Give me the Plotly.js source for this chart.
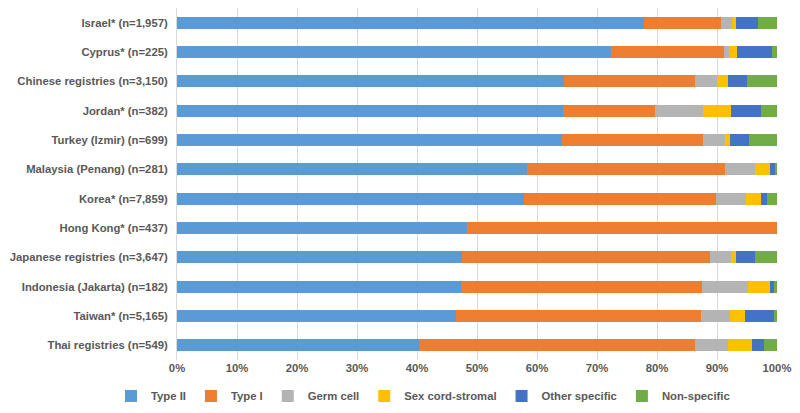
<!DOCTYPE html>
<html>
<head>
<meta charset="utf-8">
<script src="https://cdn.plot.ly/plotly-3.0.1.min.js"></script>
<style>
  html, body { margin: 0; padding: 0; background: #fff; }
  #chart { width: 800px; height: 413px; }
</style>
</head>
<body>
<div id="chart"></div>
<script>
// registries, top to bottom as drawn
const registries = [
  'Israel* (n=1,957)',
  'Cyprus* (n=225)',
  'Chinese registries (n=3,150)',
  'Jordan* (n=382)',
  'Turkey (Izmir) (n=699)',
  'Malaysia (Penang) (n=281)',
  'Korea* (n=7,859)',
  'Hong Kong* (n=437)',
  'Japanese registries (n=3,647)',
  'Indonesia (Jakarta) (n=182)',
  'Taiwan* (n=5,165)',
  'Thai registries (n=549)'
];

// percentages, same order as registries
const typeII       = [77.8, 72.4, 64.5, 64.4, 64.1, 58.4, 57.9, 48.3, 47.5, 47.4, 46.5, 40.4];
const typeI        = [12.8, 18.7, 21.8, 15.2, 23.6, 33.0, 32.0, 51.7, 41.3, 40.1, 40.9, 45.9];
const germCell     = [1.9, 0.9, 3.7, 8.1, 3.7, 5.0, 5.0, 0, 3.6, 7.7, 4.8, 5.5];
const sexCord      = [0.7, 1.3, 1.9, 4.7, 0.7, 2.5, 2.5, 0, 0.7, 3.7, 2.4, 4.1];
const otherSpec    = [3.6, 5.8, 3.1, 5.0, 3.3, 0.7, 0.9, 0, 3.3, 0.6, 4.9, 1.9];
const nonSpec      = [3.2, 0.9, 5.0, 2.6, 4.6, 0.4, 1.7, 0, 3.6, 0.5, 0.5, 2.2];

const seriesNames = ['Type II', 'Type I', 'Germ cell', 'Sex cord-stromal', 'Other specific', 'Non-specific'];
const seriesVals = [typeII, typeI, germCell, sexCord, otherSpec, nonSpec];
const colors = ['#5B9BD5', '#ED7D31', '#B4B4B4', '#FFC000', '#4472C4', '#70AD47'];

const traces = seriesNames.map((name, i) => ({
  type: 'bar',
  orientation: 'h',
  name: name,
  y: registries,
  x: seriesVals[i].map(v => v / 100),
  marker: { color: colors[i], line: { width: 0 } },
  hoverinfo: 'name+x'
}));

const font = { family: 'Arial, "Liberation Sans", sans-serif', size: 11.3, color: '#595959', weight: 'bold' };

Plotly.newPlot('chart', traces, {
  barmode: 'stack',
  bargap: 0.58,
  width: 800,
  height: 413,
  margin: { l: 177, r: 23, t: 8, b: 53, autoexpand: false },
  paper_bgcolor: '#fff',
  plot_bgcolor: '#fff',
  font: font,
  xaxis: {
    range: [0, 1],
    tickformat: '.0%',
    dtick: 0.1,
    showgrid: true,
    gridcolor: '#D9D9D9',
    zeroline: false,
    showline: false,
    ticks: '',
    tickfont: font
  },
  yaxis: {
    autorange: 'reversed',
    showgrid: false,
    showline: true,
    linecolor: '#D9D9D9',
    ticks: '',
    ticklabelstandoff: 6,
    tickfont: font
  },
  legend: {
    orientation: 'h',
    x: -0.11,
    xanchor: 'left',
    y: -0.102,
    yanchor: 'middle',
    font: { family: font.family, size: 11.3, color: '#595959', weight: 'bold' },
    itemwidth: 30,
    traceorder: 'normal'
  },
  showlegend: true
}, { displayModeBar: false, staticPlot: true });
</script>
</body>
</html>
